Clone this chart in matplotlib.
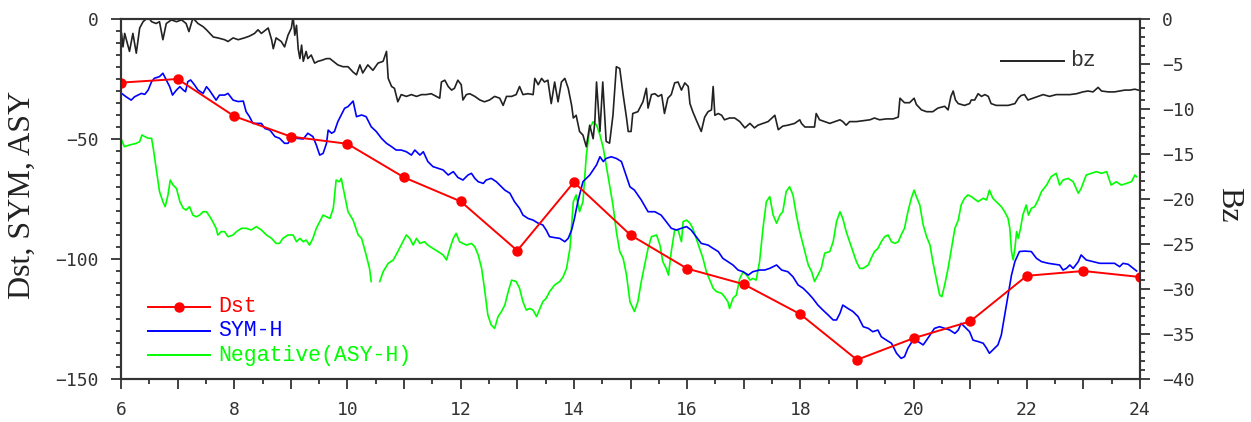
import numpy as np
import matplotlib
matplotlib.use("Agg")
import matplotlib.pyplot as plt
from matplotlib.ticker import MultipleLocator, FuncFormatter

# ---------------- data ----------------
dst_hours = list(range(6, 25))
dst_values = [-26.5, -25, -40.5, -49, -52, -66, -76, -96.5, -68, -90,
              -104, -110.5, -123, -142, -133, -126, -107, -105, -107.5]

sym_hours = [6.01, 6.09, 6.18, 6.24, 6.30, 6.36, 6.42, 6.48, 6.54, 6.59, 6.68, 6.74, 6.80, 6.86, 6.91,
             6.98, 7.04, 7.10, 7.14, 7.18, 7.23, 7.30, 7.36, 7.45, 7.51, 7.56, 7.62, 7.68, 7.74, 7.83,
             7.89, 7.98, 8.07, 8.16, 8.21, 8.27, 8.33, 8.42, 8.48, 8.54, 8.63, 8.72, 8.80, 8.89, 8.95,
             9.01, 9.10, 9.22, 9.30, 9.39, 9.45, 9.51, 9.57, 9.63, 9.66, 9.72, 9.77, 9.83, 9.89, 9.95,
             10.01, 10.10, 10.16, 10.25, 10.33, 10.42, 10.51, 10.60, 10.69, 10.78, 10.86, 10.95, 11.04,
             11.13, 11.19, 11.28, 11.34, 11.42, 11.51, 11.60, 11.69, 11.78, 11.87, 11.95, 12.04, 12.13,
             12.19, 12.25, 12.31, 12.40, 12.45, 12.54, 12.63, 12.69, 12.78, 12.87, 12.95, 13.04, 13.10,
             13.19, 13.28, 13.37, 13.45, 13.51, 13.57, 13.66, 13.75, 13.84, 13.90, 13.96, 14.01, 14.07,
             14.16, 14.22, 14.28, 14.34, 14.40, 14.46, 14.52, 14.57, 14.66, 14.75, 14.84, 14.90, 14.99,
             15.07, 15.19, 15.31, 15.43, 15.54, 15.63, 15.72, 15.81, 15.90, 15.99, 16.07, 16.16, 16.25,
             16.37, 16.46, 16.55, 16.63, 16.72, 16.81, 16.90, 16.99, 17.08, 17.16, 17.28, 17.37, 17.46,
             17.58, 17.67, 17.78, 17.87, 17.96, 18.05, 18.14, 18.22, 18.31, 18.40, 18.49, 18.58, 18.64,
             18.70, 18.75, 18.84, 18.93, 19.02, 19.11, 19.20, 19.28, 19.37, 19.43, 19.52, 19.61, 19.70,
             19.78, 19.84, 19.90, 19.99, 20.08, 20.17, 20.23, 20.29, 20.37, 20.46, 20.55, 20.64, 20.73,
             20.79, 20.84, 20.90, 20.99, 21.05, 21.14, 21.23, 21.29, 21.34, 21.40, 21.49, 21.55, 21.61,
             21.67, 21.73, 21.79, 21.87, 21.96, 22.08, 22.17, 22.26, 22.38, 22.49, 22.58, 22.64, 22.70,
             22.76, 22.82, 22.91, 22.96, 23.05, 23.17, 23.29, 23.44, 23.55, 23.64, 23.70, 23.79, 23.88,
             23.94]
sym_values = [-31.0, -32.4, -33.8, -32.4, -31.7, -31.0, -31.4, -29.6, -26.1, -24.7, -24.0, -22.6, -25.4,
              -28.2, -31.7, -29.6, -28.2, -29.6, -30.3, -26.1, -25.4, -27.5, -29.6, -31.0, -28.2, -29.6,
              -31.7, -33.8, -31.7, -31.7, -31.0, -33.8, -34.4, -34.2, -38.6, -40.7, -43.5, -43.5, -43.5,
              -45.6, -46.3, -49.0, -49.7, -51.8, -51.8, -49.7, -49.7, -50.0, -47.6, -49.0, -52.5, -56.7,
              -56.0, -51.8, -46.3, -47.6, -46.9, -42.8, -40.0, -37.2, -36.5, -34.2, -40.7, -40.0, -40.7,
              -44.9, -46.9, -49.7, -51.8, -53.2, -54.6, -54.6, -55.3, -56.7, -54.6, -56.7, -55.3, -59.4,
              -61.5, -62.2, -62.9, -65.0, -63.6, -66.0, -67.1, -65.0, -64.3, -66.4, -67.8, -68.5, -67.1,
              -66.4, -67.8, -69.2, -71.3, -72.6, -76.1, -78.9, -81.7, -83.1, -83.8, -85.1, -85.8, -87.9,
              -90.7, -91.1, -91.4, -92.8, -91.4, -87.9, -83.1, -76.1, -67.8, -66.4, -65.0, -62.9, -60.8,
              -57.4, -59.4, -58.1, -57.4, -58.1, -59.4, -63.6, -69.9, -71.3, -75.4, -80.3, -80.3, -81.7,
              -84.4, -87.2, -87.9, -87.2, -86.5, -87.9, -90.7, -93.5, -94.2, -95.6, -96.9, -99.7, -101.1,
              -102.5, -104.6, -105.3, -106.7, -105.3, -104.6, -104.6, -103.9, -102.5, -104.6, -105.3,
              -107.4, -110.8, -112.2, -114.3, -116.4, -119.2, -121.3, -123.3, -125.4, -125.4, -122.6,
              -119.2, -120.6, -121.9, -124.0, -128.2, -128.9, -130.3, -129.6, -132.4, -133.8, -135.1,
              -139.3, -141.4, -140.7, -137.2, -133.8, -134.4, -135.8, -133.8, -131.7, -128.9, -128.2,
              -128.9, -129.6, -131.0, -129.6, -126.8, -128.2, -130.3, -133.8, -134.4, -135.1, -137.2,
              -139.3, -137.9, -135.8, -131.7, -123.3, -115.0, -106.7, -101.1, -96.9, -96.7, -96.9, -99.7,
              -101.1, -101.8, -102.2, -102.5, -104.6, -103.9, -102.5, -103.9, -101.1, -98.3, -100.4,
              -101.1, -101.8, -101.8, -101.8, -103.2, -101.8, -102.2, -103.9, -105.0]

asy_hours = [6.01, 6.06, 6.15, 6.27, 6.33, 6.37, 6.42, 6.48, 6.54, 6.57, 6.62, 6.68, 6.74, 6.78, 6.83,
             6.87, 6.92, 6.98, 7.04, 7.10, 7.15, 7.21, 7.27, 7.33, 7.39, 7.45, 7.51, 7.57, 7.62, 7.68,
             7.71, 7.77, 7.83, 7.89, 7.98, 8.04, 8.13, 8.21, 8.30, 8.39, 8.48, 8.57, 8.66, 8.74, 8.80,
             8.86, 8.95, 9.04, 9.10, 9.16, 9.22, 9.27, 9.33, 9.39, 9.45, 9.51, 9.57, 9.63, 9.69, 9.75,
             9.80, 9.86, 9.89, 9.95, 10.01, 10.10, 10.19, 10.25, 10.33, 10.39, 10.42, 10.50, 10.57,
             10.63, 10.72, 10.81, 10.89, 10.98, 11.04, 11.10, 11.16, 11.22, 11.28, 11.36, 11.42, 11.51,
             11.60, 11.69, 11.75, 11.81, 11.87, 11.92, 11.98, 12.04, 12.10, 12.19, 12.25, 12.31, 12.37,
             12.42, 12.48, 12.54, 12.60, 12.66, 12.72, 12.78, 12.84, 12.90, 12.98, 13.04, 13.10, 13.16,
             13.22, 13.28, 13.34, 13.40, 13.45, 13.51, 13.57, 13.66, 13.75, 13.81, 13.87, 13.93, 13.99,
             14.04, 14.10, 14.16, 14.22, 14.28, 14.34, 14.40, 14.46, 14.52, 14.57, 14.63, 14.69, 14.75,
             14.81, 14.87, 14.93, 14.99, 15.07, 15.13, 15.19, 15.25, 15.31, 15.37, 15.46, 15.52, 15.57,
             15.63, 15.67, 15.72, 15.78, 15.84, 15.90, 15.93, 15.99, 16.05, 16.10, 16.16, 16.22, 16.28,
             16.34, 16.40, 16.46, 16.52, 16.61, 16.66, 16.72, 16.75, 16.81, 16.87, 16.93, 16.99, 17.05,
             17.11, 17.16, 17.22, 17.28, 17.34, 17.40, 17.46, 17.52, 17.58, 17.64, 17.69, 17.75, 17.81,
             17.87, 17.93, 17.99, 18.05, 18.08, 18.14, 18.20, 18.25, 18.31, 18.37, 18.43, 18.52, 18.58,
             18.64, 18.70, 18.75, 18.81, 18.87, 18.93, 18.99, 19.05, 19.11, 19.20, 19.25, 19.31, 19.37,
             19.43, 19.49, 19.55, 19.61, 19.67, 19.73, 19.78, 19.84, 19.90, 19.96, 20.01, 20.05, 20.11,
             20.17, 20.23, 20.29, 20.34, 20.40, 20.46, 20.50, 20.55, 20.61, 20.67, 20.73, 20.79, 20.84,
             20.90, 20.96, 21.02, 21.14, 21.23, 21.29, 21.34, 21.40, 21.46, 21.55, 21.61, 21.67, 21.70,
             21.73, 21.76, 21.79, 21.82, 21.85, 21.89, 21.93, 21.99, 22.03, 22.08, 22.14, 22.20, 22.26,
             22.35, 22.43, 22.52, 22.58, 22.64, 22.73, 22.82, 22.91, 22.96, 23.05, 23.14, 23.23, 23.32,
             23.41, 23.49, 23.58, 23.67, 23.76, 23.85, 23.91, 23.94]
asy_values = [-50.4, -53.2, -52.5, -51.8, -51.1, -48.3, -49.0, -49.7, -49.7, -53.9, -62.2, -71.9, -76.1,
              -78.2, -73.3, -67.1, -69.2, -70.6, -76.1, -78.9, -79.6, -78.2, -81.7, -82.4, -81.7, -80.3,
              -80.3, -82.4, -84.4, -87.2, -90.0, -88.6, -88.6, -90.7, -90.0, -88.6, -87.2, -87.2, -87.9,
              -86.5, -87.9, -90.0, -91.4, -93.5, -93.5, -91.4, -90.0, -90.0, -92.8, -91.4, -92.8, -92.1,
              -94.2, -91.4, -87.2, -84.4, -81.7, -82.4, -83.1, -78.9, -67.1, -67.8, -66.4, -73.3, -80.3,
              -83.8, -90.0, -91.4, -98.3, -103.9, -109.4, np.nan, -109.4, -105.3, -101.8, -100.4, -96.9,
              -92.8, -90.0, -91.4, -94.2, -91.4, -93.5, -92.8, -94.2, -95.6, -96.9, -98.3, -100.4, -95.6,
              -91.4, -89.3, -92.8, -93.5, -94.2, -93.5, -94.9, -98.3, -103.9, -112.2, -123.3, -127.5,
              -128.9, -124.0, -121.9, -119.2, -113.6, -108.8, -109.4, -112.2, -117.8, -121.3, -120.6,
              -121.3, -124.0, -120.6, -117.8, -116.4, -113.6, -110.8, -109.4, -107.4, -103.9, -95.6,
              -76.1, -73.3, -80.3, -76.1, -56.7, -45.6, -42.8, -44.2, -48.3, -53.9, -60.8, -69.2, -77.5,
              -88.6, -96.9, -99.7, -106.7, -117.8, -121.9, -117.8, -109.4, -102.5, -95.6, -90.7, -90.0,
              -94.2, -101.1, -103.9, -106.7, -96.9, -87.9, -87.9, -92.8, -84.4, -83.8, -85.1, -87.2,
              -91.4, -95.6, -99.7, -105.3, -108.8, -112.2, -113.6, -114.3, -115.7, -117.8, -120.6,
              -116.4, -115.0, -108.1, -105.3, -106.7, -108.8, -108.1, -108.8, -101.1, -87.2, -76.1,
              -74.0, -81.7, -85.1, -81.7, -80.3, -71.9, -69.9, -73.3, -81.7, -88.6, -94.2, -96.9, -102.5,
              -105.3, -109.4, -106.7, -103.9, -97.6, -96.9, -92.8, -84.4, -80.3, -83.1, -88.6, -92.8,
              -96.9, -101.1, -103.9, -103.9, -102.5, -99.7, -96.9, -95.6, -92.8, -90.7, -90.0, -92.8,
              -93.5, -92.8, -90.0, -87.2, -80.3, -74.7, -71.3, -74.0, -77.5, -85.8, -90.7, -94.2, -101.1,
              -108.1, -115.0, -115.7, -110.8, -103.9, -95.6, -87.2, -83.8, -77.5, -74.7, -73.3, -74.0,
              -76.1, -74.7, -75.4, -71.3, -74.7, -76.1, -78.2, -80.3, -83.1, -87.2, -96.9, -100.4, -95.6,
              -88.6, -91.4, -87.2, -81.7, -77.5, -81.7, -78.9, -78.2, -75.4, -71.9, -69.2, -65.7, -64.3,
              -69.2, -67.1, -66.4, -67.8, -72.6, -70.6, -65.0, -64.3, -63.6, -64.3, -63.6, -69.2, -67.8,
              -69.2, -68.5, -67.8, -65.0, -65.7]

bz_hours = [6.01, 6.035, 6.065, 6.15, 6.21, 6.27, 6.33, 6.39, 6.48, 6.54, 6.62, 6.68, 6.74, 6.80, 6.89,
            6.98, 7.07, 7.15, 7.20, 7.27, 7.36, 7.45, 7.51, 7.63, 7.71, 7.83, 7.89, 7.98, 8.07, 8.18,
            8.27, 8.36, 8.42, 8.48, 8.60, 8.66, 8.69, 8.74, 8.83, 8.89, 8.95, 9.01, 9.04, 9.07, 9.10,
            9.13, 9.16, 9.19, 9.22, 9.27, 9.30, 9.36, 9.42, 9.48, 9.54, 9.63, 9.69, 9.75, 9.83, 9.92,
            10.01, 10.10, 10.16, 10.22, 10.27, 10.36, 10.45, 10.54, 10.63, 10.69, 10.72, 10.78, 10.83,
            10.89, 10.95, 11.04, 11.13, 11.22, 11.31, 11.39, 11.48, 11.57, 11.63, 11.66, 11.72, 11.78,
            11.84, 11.89, 11.95, 12.01, 12.04, 12.10, 12.16, 12.25, 12.34, 12.42, 12.51, 12.60, 12.69,
            12.75, 12.81, 12.90, 12.98, 13.04, 13.10, 13.19, 13.28, 13.31, 13.37, 13.43, 13.48, 13.54,
            13.60, 13.66, 13.72, 13.78, 13.84, 13.90, 13.96, 13.99, 14.04, 14.10, 14.16, 14.22, 14.28,
            14.34, 14.37, 14.40, 14.46, 14.51, 14.57, 14.63, 14.69, 14.75, 14.81, 14.87, 14.93, 14.96,
            15.01, 15.04, 15.13, 15.22, 15.28, 15.31, 15.37, 15.43, 15.49, 15.55, 15.60, 15.66, 15.72,
            15.78, 15.84, 15.90, 15.96, 16.02, 16.05, 16.10, 16.16, 16.25, 16.31, 16.37, 16.43, 16.46,
            16.49, 16.55, 16.61, 16.66, 16.75, 16.84, 16.93, 17.02, 17.11, 17.19, 17.25, 17.34, 17.43,
            17.55, 17.61, 17.69, 17.78, 17.90, 17.99, 18.02, 18.08, 18.17, 18.25, 18.28, 18.34, 18.43,
            18.52, 18.61, 18.70, 18.75, 18.81, 18.87, 18.99, 19.11, 19.23, 19.31, 19.40, 19.52, 19.64,
            19.73, 19.76, 19.84, 19.93, 20.01, 20.05, 20.14, 20.23, 20.34, 20.43, 20.55, 20.61, 20.66,
            20.70, 20.74, 20.79, 20.90, 20.99, 21.02, 21.08, 21.14, 21.20, 21.26, 21.32, 21.37, 21.46,
            21.55, 21.67, 21.79, 21.85, 21.90, 21.96, 22.02, 22.11, 22.20, 22.29, 22.40, 22.52, 22.64,
            22.76, 22.88, 22.99, 23.08, 23.17, 23.26, 23.32, 23.44, 23.55, 23.64, 23.73, 23.82, 23.91,
            23.97]
bz_values = [-1.6, -3.1, -1.6, -3.6, -1.6, -3.8, -1.0, -0.3, 0.2, -0.3, -0.5, -0.3, -2.3, -0.5, -0.1,
             -0.3, -0.1, -0.5, -1.4, 0.1, -0.5, -0.85, -1.2, -2.0, -2.1, -2.3, -2.5, -2.1, -2.3, -2.1,
             -1.9, -1.6, -1.2, -1.6, -1.0, -2.3, -3.3, -2.1, -2.5, -3.1, -1.8, -1.0, 0.3, -1.8, -0.7,
             -3.3, -4.4, -2.9, -4.7, -3.6, -4.4, -4.0, -4.9, -4.7, -4.6, -4.4, -4.4, -4.7, -5.1, -5.3,
             -5.3, -5.9, -6.2, -5.1, -6.0, -5.1, -5.7, -4.9, -4.7, -3.6, -6.6, -7.5, -7.7, -9.2, -8.4,
             -8.6, -8.4, -8.6, -8.4, -8.4, -8.3, -8.6, -8.8, -7.0, -6.8, -7.5, -7.9, -7.7, -6.8, -7.3,
             -9.0, -8.4, -8.3, -8.6, -9.0, -9.2, -9.0, -8.6, -8.8, -9.6, -8.6, -8.6, -8.4, -7.5, -8.4,
             -8.3, -8.4, -6.6, -7.3, -6.6, -7.0, -6.8, -9.4, -7.0, -9.2, -7.0, -6.6, -7.7, -9.6, -11.0,
             -10.7, -12.5, -12.9, -14.2, -11.8, -13.3, -11.4, -7.0, -12.5, -7.0, -13.6, -13.8, -10.7,
             -5.3, -5.5, -8.4, -11.0, -12.5, -12.5, -10.5, -10.3, -9.2, -7.7, -9.9, -8.4, -8.3, -8.6,
             -8.4, -10.5, -8.8, -8.4, -7.1, -7.0, -7.9, -7.1, -7.5, -9.4, -10.3, -11.2, -12.5, -10.9,
             -10.3, -10.1, -7.5, -10.7, -10.5, -10.7, -11.2, -11.0, -11.0, -11.4, -12.1, -11.6, -12.1,
             -11.8, -11.6, -11.4, -10.7, -12.3, -11.9, -11.8, -11.6, -11.2, -11.6, -12.0, -12.0, -12.0,
             -10.5, -11.2, -11.4, -11.6, -11.4, -11.2, -11.4, -11.8, -11.4, -11.4, -11.3, -11.2, -11.0,
             -11.2, -11.1, -11.1, -10.9, -8.8, -9.3, -9.3, -8.8, -9.5, -10.1, -10.3, -10.3, -9.9, -9.7,
             -10.1, -8.6, -8.0, -9.0, -9.4, -9.6, -9.4, -9.0, -9.0, -8.3, -8.6, -8.4, -8.6, -9.4, -9.6,
             -9.6, -9.6, -9.4, -8.8, -8.5, -8.4, -9.0, -8.8, -8.6, -8.4, -8.6, -8.4, -8.4, -8.4, -8.3,
             -8.1, -8.0, -8.1, -7.6, -8.0, -8.1, -8.1, -8.0, -7.9, -7.9, -7.8, -7.9]

# ---------------- style ----------------
W, H = 1251, 422
fig = plt.figure(figsize=(W / 100, H / 100), dpi=100)
ax = fig.add_axes([121 / W, 1 - 379 / H, 1019 / W, 360 / H])
ax2 = ax.twinx()

axis_col = "#333333"
tick_family = "DejaVu Sans Mono"
tick_size = 13
mono = "Liberation Mono"

ax.plot(dst_hours, dst_values, color="#ff0000", lw=1.4, marker="o", ms=6.5, zorder=5)
ax.plot(sym_hours, sym_values, color="#0000ff", lw=1.2, zorder=4)
ax.plot(asy_hours, asy_values, color="#00ff00", lw=1.2, zorder=3)
ax2.plot(bz_hours, bz_values, color="#222222", lw=1.2, zorder=2)

ax.set_xlim(6, 24)
ax.set_ylim(-150, 0)
ax2.set_ylim(-40, 0)

ax.xaxis.set_major_locator(MultipleLocator(1))
ax.xaxis.set_minor_locator(MultipleLocator(0.5))
ax.xaxis.set_major_formatter(FuncFormatter(lambda v, p: f"{int(round(v))}" if int(round(v)) % 2 == 0 else ""))
ax.yaxis.set_major_locator(MultipleLocator(50))
ax.yaxis.set_minor_locator(MultipleLocator(5))
ax.yaxis.set_major_formatter(FuncFormatter(lambda v, p: f"{int(v)}".replace("-", "\u2212")))
ax2.yaxis.set_major_locator(MultipleLocator(5))
ax2.yaxis.set_minor_locator(MultipleLocator(1))
ax2.yaxis.set_major_formatter(FuncFormatter(lambda v, p: f"{int(v)}".replace("-", "\u2212")))

for a in (ax, ax2):
    for s in a.spines.values():
        s.set_color(axis_col)
        s.set_linewidth(1.5)
    a.tick_params(which="major", length=7, width=1.3, color=axis_col, labelcolor=axis_col, pad=9)
    a.tick_params(which="minor", length=3.5, width=1.3, color=axis_col)
for lab in ax.get_xticklabels() + ax.get_yticklabels() + ax2.get_yticklabels():
    lab.set_fontfamily(tick_family)
    lab.set_fontsize(tick_size)

# axis titles
fig.text(22 / W, 1 - 195 / H, "Dst, SYM, ASY", rotation=90, ha="center", va="center",
         family="Liberation Serif", fontsize=23, color="#222222")
fig.text(1229 / W, 1 - 205 / H, "Bz", rotation=270, ha="center", va="center",
         family="Liberation Serif", fontsize=23, color="#222222")

# legends (drawn manually)
def fx(px):
    return (px - 121) / 1019

def fy(py):
    return (379 - py) / 360

legend_rows = [("Dst", "#ff0000", True, 307), ("SYM-H", "#0000ff", False, 331),
               ("Negative(ASY-H)", "#00ff00", False, 355)]
for label, col, mk, py in legend_rows:
    ax.plot([fx(148), fx(210)], [fy(py), fy(py)], color=col, lw=1.4, transform=ax.transAxes, clip_on=False)
    if mk:
        ax.plot([fx(179)], [fy(py)], color=col, marker="o", ms=6.5, transform=ax.transAxes, clip_on=False)
    ax.text(fx(218), fy(py), label, color=col, family=mono, fontsize=15.5, va="center", ha="left",
            transform=ax.transAxes)

ax2.plot([fx(1001), fx(1064)], [fy(61), fy(61)], color="#222222", lw=1.4, transform=ax2.transAxes)
ax2.text(fx(1070), fy(61), "bz", color="#333333", family=mono, fontsize=15.5, va="center", ha="left",
         transform=ax2.transAxes)

fig.savefig("out.png", dpi=100)
